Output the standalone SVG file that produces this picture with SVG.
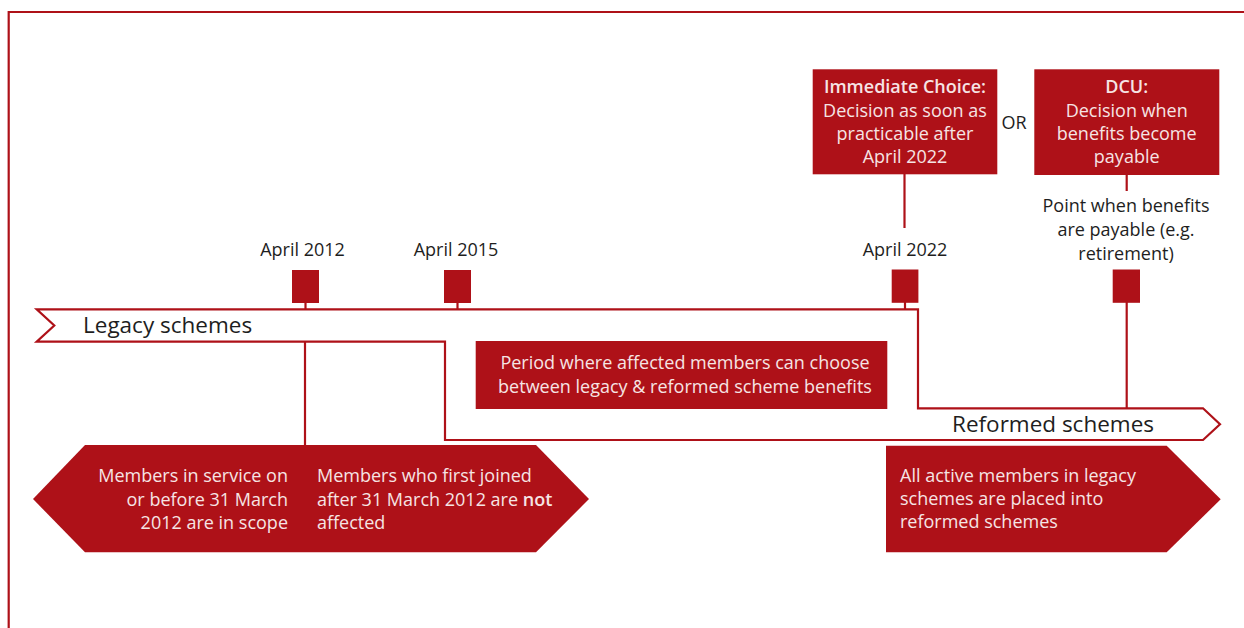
<svg xmlns="http://www.w3.org/2000/svg" width="1244" height="628" viewBox="0 0 1244 628">
<style>
.red{fill:#AE1118}
.ln{stroke:#AE1118;stroke-width:2.2;fill:none}
.wt{fill:#F6E4E4;font-family:"Open Sans","Noto Sans",sans-serif;font-size:18px}
.bk{fill:#1E1E1E;font-family:"Open Sans","Noto Sans",sans-serif;font-size:18px}
.big{fill:#1E1E1E;font-family:"Open Sans","Noto Sans",sans-serif;font-size:22.5px}
.b{font-weight:600}
</style>
<rect width="1244" height="628" fill="#FFFFFF"/>
<path d="M8.7,628 V12 H1244" class="ln"/>

<g id="connectors">
<line x1="305.5" y1="302" x2="305.5" y2="310" class="ln"/>
<line x1="457.5" y1="302" x2="457.5" y2="310" class="ln"/>
<line x1="905" y1="302" x2="905" y2="310" class="ln"/>
<line x1="904.5" y1="174" x2="904.5" y2="228" class="ln"/>
<line x1="1126.7" y1="175" x2="1126.7" y2="191" class="ln"/>
<line x1="1126.7" y1="302" x2="1126.7" y2="409" class="ln"/>
<line x1="305" y1="341" x2="305" y2="446" class="ln"/>
</g>

<g id="timeline-band">
<path d="M36.7,309.3 L918,309.3 L918,408.3 L1203,408.3 L1220,424.3 L1203,440 L445,440 L445,341.7 L36.7,341.7 L54.3,325.5 Z" fill="#FFFFFF" class="ln"/>
<text x="83" y="333" class="big">Legacy schemes</text>
<text x="952" y="432" class="big">Reformed schemes</text>
</g>

<g id="m-2012">
<rect x="292" y="270" width="27" height="33" class="red"/>
<text x="302.5" y="256" class="bk" text-anchor="middle">April 2012</text>
</g>
<g id="m-2015">
<rect x="444" y="270" width="27" height="33" class="red"/>
<text x="456" y="256" class="bk" text-anchor="middle">April 2015</text>
</g>
<g id="m-2022">
<rect x="891.7" y="269.5" width="26.7" height="33.3" class="red"/>
<text x="905" y="256" class="bk" text-anchor="middle">April 2022</text>
</g>
<g id="m-payable">
<rect x="1112.7" y="269.5" width="27.3" height="33.3" class="red"/>
<text x="1126" y="212" class="bk" text-anchor="middle">Point when benefits</text>
<text x="1126" y="236" class="bk" text-anchor="middle">are payable (e.g.</text>
<text x="1126" y="259.5" class="bk" text-anchor="middle">retirement)</text>
</g>

<g id="immediate-choice">
<rect x="812.7" y="69.3" width="184.6" height="105" class="red"/>
<text x="905" y="92.7" class="wt b" text-anchor="middle">Immediate Choice:</text>
<text x="905" y="116.7" class="wt" text-anchor="middle">Decision as soon as</text>
<text x="905" y="140" class="wt" text-anchor="middle">practicable after</text>
<text x="905" y="163.3" class="wt" text-anchor="middle">April 2022</text>
</g>
<g id="or-label">
<text x="1014" y="128.5" class="bk" text-anchor="middle">OR</text>
</g>
<g id="dcu">
<rect x="1034.3" y="69.3" width="185" height="105.7" class="red"/>
<text x="1126.7" y="92.7" class="wt b" text-anchor="middle">DCU:</text>
<text x="1126.7" y="116.7" class="wt" text-anchor="middle">Decision when</text>
<text x="1126.7" y="140" class="wt" text-anchor="middle">benefits become</text>
<text x="1126.7" y="163.3" class="wt" text-anchor="middle">payable</text>
</g>

<g id="period">
<rect x="475.7" y="341" width="411.6" height="68" class="red"/>
<text x="685" y="369.3" class="wt" text-anchor="middle">Period where affected members can choose</text>
<text x="685" y="393.3" class="wt" text-anchor="middle">between legacy &amp; reformed scheme benefits</text>
</g>

<g id="scope">
<path d="M33,499 L85,445 L536,445 L589,499 L536,552.3 L85,552.3 Z" class="red"/>
<text x="288" y="481.7" class="wt" text-anchor="end">Members in service on</text>
<text x="288" y="506" class="wt" text-anchor="end">or before 31 March</text>
<text x="288" y="529.3" class="wt" text-anchor="end">2012 are in scope</text>
<text x="317" y="481.7" class="wt">Members who first joined</text>
<text x="317" y="506" class="wt">after 31 March 2012 are <tspan class="b">not</tspan></text>
<text x="317" y="529.3" class="wt">affected</text>
</g>

<g id="reformed-note">
<path d="M886,445.7 L1166.7,445.7 L1220.7,499.3 L1166.7,552.3 L886,552.3 Z" class="red"/>
<text x="900" y="481.7" class="wt">All active members in legacy</text>
<text x="900" y="505" class="wt">schemes are placed into</text>
<text x="900" y="528.3" class="wt">reformed schemes</text>
</g>
</svg>
